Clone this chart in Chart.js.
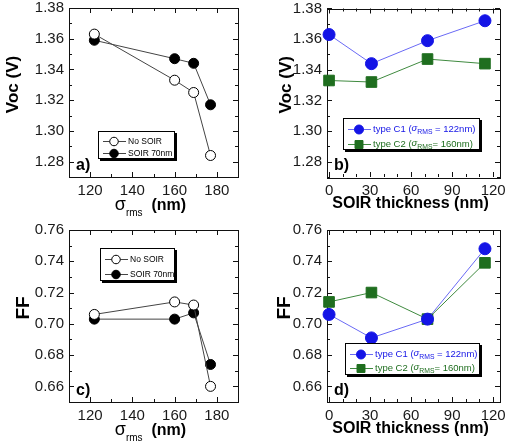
<!DOCTYPE html>
<html>
<head>
<meta charset="utf-8">
<script src="https://cdn.jsdelivr.net/npm/chart.js@4.4.1/dist/chart.umd.min.js"></script>
<style>
  html, body { margin: 0; padding: 0; background: #fff; }
  #wrap { position: relative; width: 509px; height: 443px; }
  canvas { position: absolute; }
</style>
</head>
<body>
<div id="wrap">
  <canvas id="chartA" width="254" height="221" style="left:0;top:0"></canvas>
  <canvas id="chartB" width="255" height="221" style="left:254px;top:0"></canvas>
  <canvas id="chartC" width="254" height="222" style="left:0;top:221px"></canvas>
  <canvas id="chartD" width="255" height="222" style="left:254px;top:221px"></canvas>
</div>
<script>
// sigma_rms series (panels a, c)
const sigmaRms = [122, 160, 169, 177];
const vocNoSoir = [1.363, 1.333, 1.325, 1.284];
const vocSoir70 = [1.359, 1.347, 1.344, 1.317];
const ffNoSoir = [0.706, 0.714, 0.712, 0.660];
const ffSoir70 = [0.703, 0.703, 0.707, 0.674];

// SOIR thickness series (panels b, d)
const soirThickness = [0, 31, 72, 114];
const vocC1 = [1.363, 1.344, 1.359, 1.372];
const vocC2 = [1.333, 1.332, 1.347, 1.344];
const ffC1 = [0.706, 0.691, 0.703, 0.748];
const ffC2 = [0.714, 0.720, 0.703, 0.739];

// tick labels
const sigmaTicks = [120, 140, 160, 180];
const soirTicks = [0, 30, 60, 90, 120];
const vocTicks = [1.28, 1.30, 1.32, 1.34, 1.36, 1.38];
const ffTicks = [0.66, 0.68, 0.70, 0.72, 0.74, 0.76];

const FONT = "'Liberation Sans', Arial, sans-serif";
const c1Blue = '#1414e6';
const c2Green = '#1f6e1f';

function pts(xs, ys) {
    return xs.map((x, i) => ({ x: x, y: ys[i] }));
}

const framePlugin = {
    id: 'frame',
    beforeDatasetsDraw(chart, args, opts) {
        const { ctx, chartArea: a, scales } = chart;
        ctx.save();
        ctx.strokeStyle = '#111';
        ctx.lineWidth = 1;
        ctx.strokeRect(Math.round(a.left) + 0.5, Math.round(a.top) + 0.5,
            Math.round(a.right - a.left), Math.round(a.bottom - a.top));
        ctx.beginPath();
        const marks = (scale, minor, majors, cb) => {
            const start = Math.ceil(scale.min / minor - 1e-6);
            for (let i = start; i * minor <= scale.max + 1e-9; i++) {
                const v = i * minor;
                const major = majors.some(m => Math.abs(m - v) < minor / 10);
                cb(Math.round(scale.getPixelForValue(v)) + 0.5, major ? 5 : 3);
            }
        };
        marks(scales.x, opts.xMinor, opts.xMajor, (px, len) => {
            ctx.moveTo(px, a.bottom); ctx.lineTo(px, a.bottom - len);
            ctx.moveTo(px, a.top); ctx.lineTo(px, a.top + len);
        });
        marks(scales.y, opts.yMinor, opts.yMajor, (py, len) => {
            ctx.moveTo(a.left, py); ctx.lineTo(a.left + len, py);
            ctx.moveTo(a.right, py); ctx.lineTo(a.right - len, py);
        });
        ctx.stroke();
        ctx.restore();
    },
    afterDraw(chart, args, opts) {
        const { ctx, chartArea: a } = chart;
        ctx.save();
        ctx.fillStyle = '#000';
        // y title
        ctx.translate(opts.yTitleX, (a.top + a.bottom) / 2 - 8);
        ctx.rotate(-Math.PI / 2);
        ctx.textAlign = 'center';
        ctx.textBaseline = 'middle';
        ctx.font = 'bold ' + opts.yTitleSize + 'px ' + FONT;
        ctx.fillText(opts.yTitle, 0, 0);
        ctx.setTransform(1, 0, 0, 1, 0, 0);

        // x title
        const cx = (a.left + a.right) / 2 - 3;
        const ty = a.bottom + 27;
        if (opts.sigmaTitle) {
            const parts = [
                { t: 'σ', f: '18px ' + FONT, dy: 0 },
                { t: 'rms', f: '10px ' + FONT, dy: 6 },
                { t: '  ', f: 'bold 16px ' + FONT, dy: 0 },
                { t: '(nm)', f: 'bold 16px ' + FONT, dy: 0 }
            ];
            ctx.textBaseline = 'alphabetic';
            ctx.textAlign = 'left';
            let w = 0;
            parts.forEach(p => { ctx.font = p.f; p.w = ctx.measureText(p.t).width; w += p.w; });
            let x = cx - w / 2;
            parts.forEach(p => { ctx.font = p.f; ctx.fillText(p.t, x, ty + 6 + p.dy); x += p.w; });
        } else {
            ctx.textAlign = 'center';
            ctx.textBaseline = 'middle';
            ctx.font = 'bold 16px ' + FONT;
            ctx.fillText(opts.xTitle, cx, ty);
        }

        // panel letter
        ctx.textAlign = 'left';
        ctx.textBaseline = 'alphabetic';
        ctx.font = 'bold 16px ' + FONT;
        ctx.fillText(opts.letter, a.left + 7, a.bottom - 7);

        // legend box
        const L = opts.legend;
        ctx.fillStyle = '#000';
        ctx.fillRect(L.x + 2, L.y + 2, L.w + 1, L.h + 1);
        ctx.fillStyle = '#fff';
        ctx.fillRect(L.x, L.y, L.w, L.h);
        ctx.strokeStyle = '#000';
        ctx.lineWidth = 1;
        ctx.strokeRect(L.x + 0.5, L.y + 0.5, L.w, L.h);
        chart.data.datasets.forEach((ds, i) => {
            const ry = Math.round(L.y + L.h * L.rows[i]) + 0.5;
            ctx.strokeStyle = ds.borderColor;
            ctx.lineWidth = ds.borderWidth;
            ctx.beginPath();
            ctx.moveTo(L.x + 5, ry);
            ctx.lineTo(L.x + 28, ry);
            ctx.stroke();
            ctx.fillStyle = ds.pointBackgroundColor;
            ctx.strokeStyle = ds.pointBorderColor;
            ctx.lineWidth = ds.pointBorderWidth;
            Chart.helpers.drawPoint(ctx, {
                pointStyle: ds.pointStyle, radius: ds.pointRadius * L.markerScale,
                borderWidth: ds.pointBorderWidth, rotation: 0
            }, L.x + 16, ry);
            let x = L.x + 30;
            ctx.fillStyle = L.colors[i];
            ctx.textBaseline = 'middle';
            ctx.textAlign = 'left';
            L.text[i].forEach(p => {
                const size = p.sub ? L.size * 0.72 : L.size;
                ctx.font = (p.it ? 'italic ' : '') + size + 'px ' + FONT;
                ctx.fillText(p.t, x, ry + (p.sub ? 3 : (p.it ? -1 : 0)));
                x += ctx.measureText(p.t).width;
            });
        });
        ctx.restore();
    }
};

function axis(min, max, ticks, size, horizontal, fmt) {
    return {
        type: 'linear',
        min: min,
        max: max,
        grid: { display: false, drawTicks: false },
        border: { display: false },
        afterBuildTicks: s => { s.ticks = ticks.map(v => ({ value: v })); },
        afterFit: s => {
            if (horizontal) { s.height = size; } else { s.width = size; }
            s.paddingLeft = 0; s.paddingRight = 0; s.paddingTop = 0; s.paddingBottom = 0;
        },
        ticks: {
            autoSkip: false,
            maxRotation: 0,
            padding: 5,
            color: '#1a1a1a',
            font: { family: FONT, size: 15 },
            callback: fmt
        }
    };
}

function sigmaSets(noSoir, soir) {
    return [{
        label: 'No SOIR',
        data: pts(sigmaRms, noSoir),
        borderColor: '#444',
        borderWidth: 1,
        pointStyle: 'circle',
        pointRadius: 5,
        pointBackgroundColor: '#fff',
        pointBorderColor: '#000',
        pointBorderWidth: 1,
        showLine: true,
        clip: false
    }, {
        label: 'SOIR 70nm',
        data: pts(sigmaRms, soir),
        borderColor: '#444',
        borderWidth: 1,
        pointStyle: 'circle',
        pointRadius: 5,
        pointBackgroundColor: '#000',
        pointBorderColor: '#000',
        pointBorderWidth: 1,
        showLine: true,
        clip: false
    }];
}

function soirSets(c1, c2) {
    return [{
        label: 'type C1 (σRMS = 122nm)',
        data: pts(soirThickness, c1),
        borderColor: '#6a6af5',
        borderWidth: 1,
        pointStyle: 'circle',
        pointRadius: 6,
        pointBackgroundColor: c1Blue,
        pointBorderColor: c1Blue,
        pointBorderWidth: 1,
        showLine: true,
        clip: false
    }, {
        label: 'type C2 (σRMS = 160nm)',
        data: pts(soirThickness, c2),
        borderColor: '#3f8a3f',
        borderWidth: 1,
        pointStyle: 'rect',
        pointRadius: 7.5,
        pointBackgroundColor: c2Green,
        pointBorderColor: c2Green,
        pointBorderWidth: 1,
        showLine: true,
        clip: false
    }];
}

const sigmaLegendText = [[{ t: 'No SOIR' }], [{ t: 'SOIR 70nm' }]];
const soirLegendText = [
    [{ t: 'type C1 (' }, { t: 'σ', it: true }, { t: 'RMS', sub: true }, { t: ' = 122nm)' }],
    [{ t: 'type C2 (' }, { t: 'σ', it: true }, { t: 'RMS', sub: true }, { t: '= 160nm)' }]
];

function makeChart(id, datasets, xAxis, yAxis, padding, frame) {
    return new Chart(document.getElementById(id).getContext('2d'), {
        type: 'scatter',
        data: { datasets: datasets },
        options: {
            responsive: false,
            animation: false,
            layout: { padding: padding },
            scales: { x: xAxis, y: yAxis },
            plugins: {
                legend: { display: false },
                tooltip: { enabled: false },
                frame: frame
            }
        },
        plugins: [framePlugin]
    });
}

const fmt2 = v => v.toFixed(2);
const fmt0 = v => String(v);

makeChart('chartA', sigmaSets(vocNoSoir, vocSoir70),
    axis(110, 190, sigmaTicks, 44, true, fmt0),
    axis(1.27, 1.38, vocTicks, 69, false, fmt2),
    { left: 0, top: 8, right: 16, bottom: 0 },
    {
        xMinor: 10, xMajor: sigmaTicks, yMinor: 0.01, yMajor: vocTicks,
        yTitle: 'Voc (V)', yTitleX: 13, yTitleSize: 17, sigmaTitle: true, letter: 'a)',
        legend: { x: 98, y: 131, w: 76, h: 27, rows: [0.36, 0.82], size: 8.5, markerScale: 0.85,
            colors: ['#000', '#000'], text: sigmaLegendText }
    });

makeChart('chartB', soirSets(vocC1, vocC2),
    axis(-1.5, 125, soirTicks, 44, true, fmt0),
    axis(1.27, 1.38, vocTicks, 73, false, fmt2),
    { left: 0, top: 8, right: 9, bottom: 0 },
    {
        xMinor: 10, xMajor: soirTicks, yMinor: 0.01, yMajor: vocTicks,
        yTitle: 'Voc (V)', yTitleX: 32, yTitleSize: 17, xTitle: 'SOIR thickness (nm)', letter: 'b)',
        legend: { x: 89, y: 118, w: 136, h: 31, rows: [0.37, 0.83], size: 9.5, markerScale: 0.75,
            colors: [c1Blue, c2Green], text: soirLegendText }
    });

makeChart('chartC', sigmaSets(ffNoSoir, ffSoir70),
    axis(110, 190, sigmaTicks, 41, true, fmt0),
    axis(0.65, 0.76, ffTicks, 69, false, fmt2),
    { left: 0, top: 9, right: 16, bottom: 0 },
    {
        xMinor: 10, xMajor: sigmaTicks, yMinor: 0.01, yMajor: ffTicks,
        yTitle: 'FF', yTitleX: 24, yTitleSize: 19, sigmaTitle: true, letter: 'c)',
        legend: { x: 100, y: 27, w: 74, h: 32, rows: [0.35, 0.82], size: 8.5, markerScale: 0.85,
            colors: ['#000', '#000'], text: sigmaLegendText }
    });

makeChart('chartD', soirSets(ffC1, ffC2),
    axis(-1.5, 125, soirTicks, 41, true, fmt0),
    axis(0.65, 0.76, ffTicks, 73, false, fmt2),
    { left: 0, top: 9, right: 9, bottom: 0 },
    {
        xMinor: 10, xMajor: soirTicks, yMinor: 0.01, yMajor: ffTicks,
        yTitle: 'FF', yTitleX: 31, yTitleSize: 19, xTitle: 'SOIR thickness (nm)', letter: 'd)',
        legend: { x: 91, y: 122, w: 134, h: 31, rows: [0.35, 0.80], size: 9.5, markerScale: 0.75,
            colors: [c1Blue, c2Green], text: soirLegendText }
    });
</script>
</body>
</html>
